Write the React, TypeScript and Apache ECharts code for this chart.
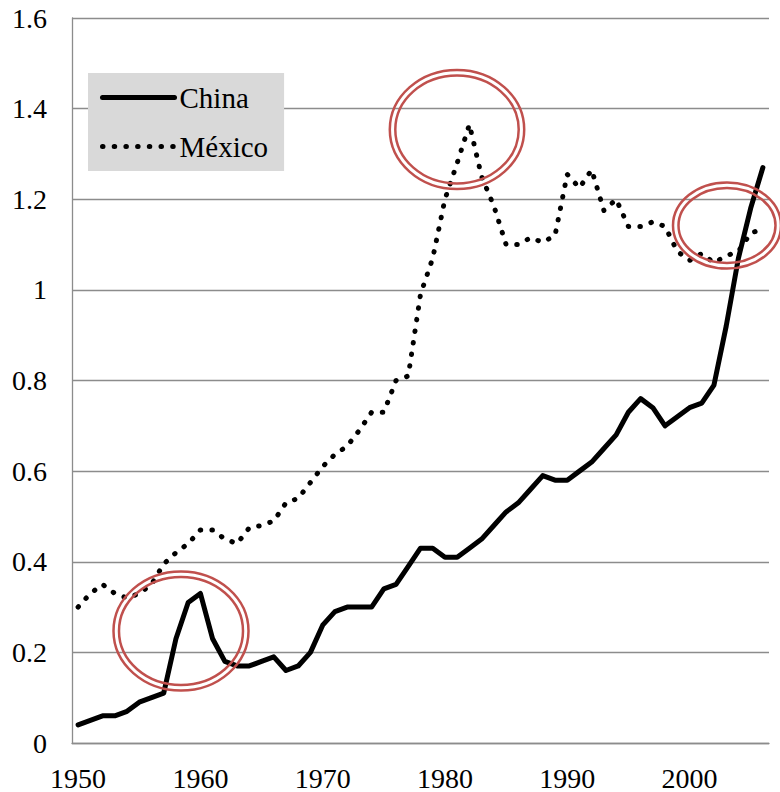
import React, { useEffect, useRef } from "react";
import * as echarts from "echarts";

const years = [
  "1950", "1951", "1952", "1953", "1954", "1955", "1956", "1957", "1958", "1959",
  "1960", "1961", "1962", "1963", "1964", "1965", "1966", "1967", "1968", "1969",
  "1970", "1971", "1972", "1973", "1974", "1975", "1976", "1977", "1978", "1979",
  "1980", "1981", "1982", "1983", "1984", "1985", "1986", "1987", "1988", "1989",
  "1990", "1991", "1992", "1993", "1994", "1995", "1996", "1997", "1998", "1999",
  "2000", "2001", "2002", "2003", "2004", "2005", "2006",
];

const china = [
  0.04, 0.05, 0.06, 0.06, 0.07, 0.09, 0.10, 0.11, 0.23, 0.31,
  0.33, 0.23, 0.18, 0.17, 0.17, 0.18, 0.19, 0.16, 0.17, 0.20,
  0.26, 0.29, 0.30, 0.30, 0.30, 0.34, 0.35, 0.39, 0.43, 0.43,
  0.41, 0.41, 0.43, 0.45, 0.48, 0.51, 0.53, 0.56, 0.59, 0.58,
  0.58, 0.60, 0.62, 0.65, 0.68, 0.73, 0.76, 0.74, 0.70, 0.72,
  0.74, 0.75, 0.79, 0.92, 1.07, 1.18, 1.27,
];

const mexico = [
  0.30, 0.33, 0.35, 0.33, 0.32, 0.33, 0.35, 0.395, 0.42, 0.44,
  0.47, 0.47, 0.45, 0.44, 0.475, 0.48, 0.49, 0.53, 0.54, 0.575,
  0.61, 0.637, 0.655, 0.69, 0.73, 0.73, 0.80, 0.81, 0.99, 1.07,
  1.20, 1.28, 1.365, 1.25, 1.185, 1.10, 1.10, 1.115, 1.105, 1.12,
  1.255, 1.225, 1.265, 1.175, 1.20, 1.14, 1.14, 1.15, 1.14, 1.085,
  1.065, 1.08, 1.06, 1.075, 1.085, 1.125, 1.135,
];

const seriesNames = ["China", "México"];

const FONT = "Liberation Serif";
const GRID_COLOR = "#8c8c8c";
const RING_COLOR = "#C0504D";

function rings(cx: number, cy: number, rx: number, ry: number, gap: number) {
  return [
    {
      type: "ellipse",
      z: 100,
      shape: { cx, cy, rx, ry },
      style: { fill: "none", stroke: RING_COLOR, lineWidth: 2.5 },
      silent: true,
    },
    {
      type: "ellipse",
      z: 100,
      shape: { cx, cy, rx: rx - gap, ry: ry - gap },
      style: { fill: "none", stroke: RING_COLOR, lineWidth: 2.5 },
      silent: true,
    },
  ];
}

export default function App() {
  const ref = useRef<HTMLDivElement>(null);

  useEffect(() => {
    if (!ref.current) return;
    const chart = echarts.init(ref.current, null, { renderer: "svg" });
    chart.setOption({
      animation: false,
      backgroundColor: "#ffffff",
      textStyle: { fontFamily: FONT },
      grid: { left: 72, right: 11, top: 18, bottom: 49, containLabel: false },
      legend: {
        left: 88,
        top: 73,
        orient: "vertical",
        backgroundColor: "#d9d9d9",
        borderRadius: 0,
        padding: [10, 16, 10, 12],
        itemWidth: 72,
        itemHeight: 14,
        itemGap: 20,
        itemStyle: { opacity: 0, borderWidth: 0 },
        textStyle: { fontFamily: FONT, fontSize: 29, color: "#000" },
        data: [
          { name: seriesNames[0], lineStyle: { width: 5 } },
          { name: seriesNames[1], lineStyle: { width: 5 } },
        ],
      },
      xAxis: {
        type: "category",
        data: years,
        boundaryGap: true,
        axisLine: { show: true, lineStyle: { color: GRID_COLOR, width: 1.3 } },
        axisTick: { show: false },
        axisLabel: {
          interval: 9,
          margin: 21,
          fontFamily: FONT,
          fontSize: 28,
          color: "#000",
        },
        splitLine: { show: false },
      },
      yAxis: {
        type: "value",
        min: 0,
        max: 1.6,
        interval: 0.2,
        axisLine: { show: true, lineStyle: { color: GRID_COLOR, width: 1.3 } },
        axisTick: { show: false },
        axisLabel: {
          margin: 25,
          fontFamily: FONT,
          fontSize: 28,
          color: "#000",
        },
        splitLine: { show: true, lineStyle: { color: GRID_COLOR, width: 1.3 } },
      },
      series: [
        {
          name: seriesNames[0],
          type: "line",
          data: china,
          symbol: "none",
          z: 3,
          lineStyle: { color: "#000", width: 5, cap: "round", join: "round" },
          itemStyle: { color: "#000" },
        },
        {
          name: seriesNames[1],
          type: "line",
          data: mexico,
          symbol: "none",
          z: 2,
          lineStyle: {
            color: "#000",
            width: 5,
            type: [0.5, 11.2],
            cap: "round",
            join: "round",
          },
          itemStyle: { color: "#000" },
        },
      ],
      graphic: [
        ...rings(181, 631, 67.5, 59.5, 5.5),
        ...rings(457, 129.5, 67.2, 59.5, 5.5),
        ...rings(727, 225.5, 54, 43, 5.5),
      ],
    });
    return () => chart.dispose();
  }, []);

  return (
    <div
      ref={ref}
      style={{ position: "fixed", left: 0, top: 0, width: 780, height: 792 }}
    />
  );
}
